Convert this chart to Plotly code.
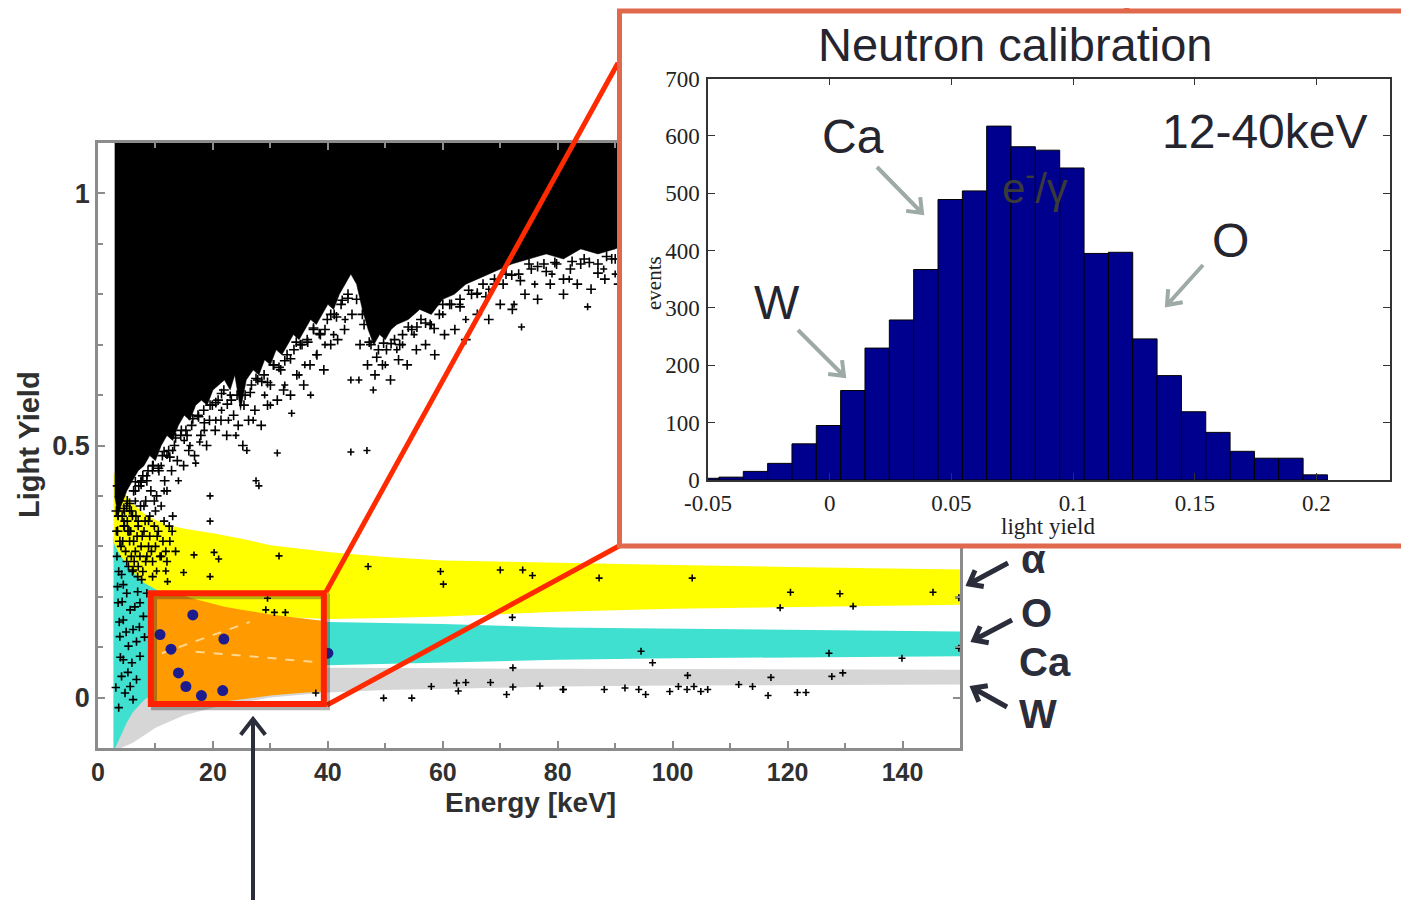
import math
import plotly.graph_objects as go

FIG_W, FIG_H = 1409, 900
PAGE_OFF = 8  # the page places the figure 8 px from the top-left corner

# ---------------- main panel: Light Yield vs Energy [keV] ----------------
band_E = [2.7, 3, 4, 5, 6, 8, 10, 12, 15, 20, 25, 30, 40, 50, 60, 80, 100, 120, 150]
alpha_top = [0.45, 0.44, 0.42, 0.40, 0.385, 0.365, 0.352, 0.343, 0.335, 0.326, 0.315, 0.302, 0.289,
             0.279, 0.272, 0.267, 0.263, 0.259, 0.254]
alpha_bot = [0.31, 0.30, 0.28, 0.265, 0.25, 0.228, 0.215, 0.205, 0.192, 0.178, 0.168, 0.161, 0.156,
             0.158, 0.161, 0.170, 0.176, 0.180, 0.184]
oxygen_top = [0.32, 0.31, 0.29, 0.275, 0.26, 0.24, 0.225, 0.213, 0.20, 0.185, 0.172, 0.163, 0.150,
              0.148, 0.146, 0.139, 0.137, 0.134, 0.131]
oxygen_bot = [-0.1, -0.1, -0.075, -0.05, -0.03, -0.005, 0.01, 0.02, 0.032, 0.044, 0.051, 0.056, 0.064,
              0.067, 0.070, 0.075, 0.078, 0.080, 0.082]
tungsten_top = [0.20, 0.19, 0.17, 0.15, 0.13, 0.11, 0.095, 0.085, 0.078, 0.072, 0.068, 0.065, 0.059,
                0.058, 0.058, 0.057, 0.056, 0.056, 0.055]
tungsten_bot = [-0.1, -0.1, -0.1, -0.095, -0.09, -0.075, -0.06, -0.05, -0.035, -0.02, -0.01, 0.0, 0.01,
                0.015, 0.018, 0.022, 0.024, 0.025, 0.026]

calcium_E = [9.2, 14, 17, 22, 25, 30, 35, 39.3]
calcium_top = [0.207, 0.205, 0.195, 0.18, 0.174, 0.165, 0.158, 0.152]
calcium_bot = [-0.013, -0.013, -0.013, -0.008, -0.003, 0.004, 0.009, 0.012]

ca_guide1_E = [11.1, 26.4]
ca_guide1_y = [0.088, 0.150]
ca_guide2_E = [17.0, 37.5]
ca_guide2_y = [0.091, 0.071]

egamma_E = [2.9, 3.5, 4, 5, 6, 7, 8, 9, 10, 11, 12, 13, 14, 15, 16, 17, 18, 19, 20, 21, 22, 23,
            23.8, 24.8, 25.8, 27, 28, 29, 30, 31, 32, 33, 34, 35, 36, 37, 38, 39, 40, 41, 42, 43,
            44, 45, 46, 47, 48, 49, 50, 51, 52, 54, 56, 58, 60, 62, 64, 66, 68, 70, 72, 75, 78,
            81, 84, 87, 90, 92, 150]
egamma_low = [0.40, 0.36, 0.38, 0.41, 0.43, 0.45, 0.46, 0.48, 0.47, 0.50, 0.52, 0.51, 0.54, 0.56,
              0.55, 0.58, 0.59, 0.58, 0.61, 0.62, 0.63, 0.61, 0.64, 0.57, 0.63, 0.65, 0.64, 0.67,
              0.66, 0.69, 0.68, 0.70, 0.72, 0.71, 0.73, 0.75, 0.74, 0.76, 0.78, 0.77, 0.80, 0.82,
              0.84, 0.82, 0.77, 0.73, 0.70, 0.72, 0.71, 0.73, 0.74, 0.75, 0.77, 0.76, 0.79, 0.80,
              0.82, 0.83, 0.84, 0.85, 0.86, 0.87, 0.88, 0.87, 0.89, 0.88, 0.89, 0.90, 0.90]
egamma_ceiling = 1.1

fringe_E = [3.2, 3.4, 3.8, 4.2, 4.6, 5.1, 5.4, 5.8, 6.2, 6.6, 7.1, 7.4, 7.8, 8.3, 8.7, 9.2, 9.6,
            10.2, 10.6, 11.2, 11.6, 12.3, 12.8, 13.3, 13.8, 14.4, 14.9, 15.3, 15.8, 16.3, 16.8,
            17.4, 17.9, 18.4, 18.9, 19.4, 19.9, 20.4, 20.9, 21.4, 21.9, 22.4, 23.2, 23.6, 24.4,
            25.2, 25.6, 26.2, 26.7, 27.3, 27.8, 28.4, 28.9, 29.5, 30.0, 30.6, 31.2, 31.8, 32.3,
            32.9, 33.5, 34.1, 34.6, 35.2, 35.8, 36.4, 36.9, 37.5, 38.1, 38.7, 39.3, 39.9, 40.5,
            41.1, 41.7, 42.3, 42.9, 43.5, 44.2, 45.0, 45.6, 46.3, 46.9, 47.5, 48.2, 48.8, 49.5,
            50.2, 50.9, 51.6, 52.3, 53.0, 53.8, 54.6, 55.4, 56.2, 57.0, 57.8, 58.6, 59.4, 60.3,
            61.2, 62.1, 63.0, 64.0, 65.0, 66.0, 67.0, 68.0, 69.0, 70.0, 71.0, 72.1, 73.2, 74.3,
            75.4, 76.5, 77.6, 78.7, 79.8, 81.0, 82.2, 83.4, 84.6, 85.8, 87.0, 88.2, 89.4, 90.6]
fringe_y = [0.37, 0.33, 0.31, 0.36, 0.34, 0.39, 0.33, 0.37, 0.41, 0.36, 0.42, 0.38, 0.44, 0.39,
            0.45, 0.41, 0.46, 0.40, 0.45, 0.48, 0.43, 0.49, 0.45, 0.50, 0.47, 0.52, 0.46, 0.53,
            0.49, 0.54, 0.48, 0.56, 0.52, 0.57, 0.50, 0.55, 0.58, 0.53, 0.59, 0.55, 0.61, 0.52,
            0.59, 0.56, 0.54, 0.50, 0.60, 0.55, 0.62, 0.57, 0.63, 0.54, 0.64, 0.58, 0.62, 0.66,
            0.59, 0.65, 0.61, 0.68, 0.60, 0.69, 0.64, 0.70, 0.62, 0.71, 0.66, 0.73, 0.68, 0.72,
            0.65, 0.75, 0.70, 0.76, 0.71, 0.78, 0.73, 0.80, 0.76, 0.79, 0.70, 0.74, 0.66, 0.70,
            0.64, 0.69, 0.66, 0.69, 0.63, 0.71, 0.67, 0.72, 0.66, 0.73, 0.69, 0.75, 0.70, 0.74,
            0.68, 0.76, 0.72, 0.78, 0.73, 0.79, 0.71, 0.80, 0.76, 0.82, 0.75, 0.82, 0.78, 0.84,
            0.77, 0.84, 0.80, 0.85, 0.79, 0.86, 0.82, 0.86, 0.80, 0.85, 0.82, 0.87, 0.81, 0.86,
            0.83, 0.87, 0.82]

fringe2_E = [4.5, 5.5, 6.5, 7.5, 8.5, 9.5, 10.5, 11.5, 12.5, 13.5, 14.5, 15.5, 16.5, 17.5, 18.5,
             19.5, 20.5, 21.5, 22.5, 24.2, 25.4, 26.5, 27.5, 28.5, 29.5, 30.5, 31.5, 32.5, 33.5,
             34.5, 35.5, 36.5, 37.5, 38.5, 39.5, 40.5, 41.5, 42.5, 43.5, 46.0, 47.2, 48.5, 49.7,
             51.0, 52.5, 54.0, 55.5, 57.0, 58.5, 60.0, 61.5, 63.0, 64.5, 66.0, 67.5, 69.0, 70.5,
             72.0, 73.5, 75.0, 76.5, 78.0, 79.5, 81.0, 82.5, 84.0, 85.5, 87.0, 88.5, 90.0]
fringe2_y = [0.375, 0.385, 0.428, 0.427, 0.43, 0.46, 0.455, 0.488, 0.477, 0.515, 0.53, 0.52,
             0.553, 0.557, 0.545, 0.58, 0.585, 0.603, 0.582, 0.60, 0.58, 0.605, 0.633, 0.627,
             0.625, 0.66, 0.655, 0.668, 0.672, 0.705, 0.70, 0.705, 0.733, 0.722, 0.73, 0.76,
             0.755, 0.788, 0.792, 0.76, 0.705, 0.675, 0.703, 0.702, 0.70, 0.735, 0.735, 0.743,
             0.732, 0.78, 0.78, 0.775, 0.808, 0.802, 0.795, 0.83, 0.82, 0.838, 0.827, 0.86, 0.855,
             0.845, 0.863, 0.83, 0.865, 0.86, 0.863, 0.842, 0.875, 0.87]

leak_E = [3.5, 4.5, 5.5, 6.5, 7.5, 8.5, 9.5, 11, 12, 13, 14, 15, 16, 17, 17.7, 18.5, 19.5, 19.5, 20.5,
          21.5, 22.7, 23, 25.9, 27, 28, 29, 30, 31.2, 32.5, 33.7, 35, 36, 38, 39.5, 41, 43, 44, 44,
          45.4, 46.8, 47.9, 50, 52, 55, 58, 60, 63, 66, 68, 72.4, 73.7, 76, 79, 82, 85.2, 88, 90,
          27.5, 11.5, 24, 37, 53, 64]
leak_y = [0.36, 0.35, 0.37, 0.39, 0.42, 0.44, 0.45, 0.46, 0.48, 0.49, 0.43, 0.51, 0.50, 0.465, 0.507,
          0.53, 0.35, 0.40, 0.55, 0.57, 0.55, 0.60, 0.49, 0.55, 0.42, 0.60, 0.58, 0.485, 0.62, 0.564,
          0.64, 0.66, 0.68, 0.70, 0.72, 0.75, 0.487, 0.63, 0.63, 0.49, 0.61, 0.66, 0.69, 0.72, 0.74,
          0.76, 0.78, 0.80, 0.81, 0.78, 0.735, 0.82, 0.84, 0.83, 0.775, 0.85, 0.84,
          0.43, 0.41, 0.52, 0.60, 0.70, 0.75]

lowE_E = [4.1, 4.4, 5.0, 3.5, 5.6, 4.4, 6.1, 3.8, 5.3, 6.7, 4.4, 5.9, 7.3, 4.1, 5.6, 6.7, 7.9, 7.3,
          8.5, 7.6, 6.1, 4.7, 6.1, 4, 5, 6, 7, 8, 9, 10, 4.5, 5.5, 6.5, 7.5, 8.5, 9.5, 11, 12, 5, 6,
          7, 10.5, 11.5, 12.5, 13.5, 8, 9, 10, 6.5, 7.5, 3.5, 4, 9.5, 3.2, 3.3, 3.6, 5.2, 6.8, 8.8,
          9.8, 11, 12, 13, 3.3, 3.9, 4.3, 4.8, 5.3, 5.8, 6.3, 6.9, 7.3, 7.8, 8.3, 8.8, 9.3, 9.8,
          10.3, 10.8, 11.3, 11.8, 12.4, 12.9, 3.4, 3.7, 3.9, 4.9, 5.2, 6.4, 6.9, 7.2, 8.1, 3.1,
          3.6, 4.2, 5.7, 6.2, 7.0, 7.7, 8.2, 4.6, 5.1]
lowE_y = [0.244, 0.224, 0.207, 0.188, 0.174, 0.154, 0.135, 0.121, 0.102, 0.111, 0.075, 0.069, 0.082,
          0.042, 0.022, 0.036, 0.161, 0.188, 0.207, 0.234, 0.253, 0.009, -0.004, 0.40, 0.38, 0.36,
          0.35, 0.33, 0.32, 0.30, 0.34, 0.31, 0.29, 0.30, 0.28, 0.27, 0.28, 0.27, 0.27, 0.25, 0.26,
          0.33, 0.35, 0.31, 0.29, 0.38, 0.36, 0.37, 0.41, 0.43, 0.36, 0.30, 0.24, 0.33, 0.28, 0.25,
          0.33, 0.32, 0.35, 0.39, 0.38, 0.41, 0.36, 0.42, 0.44, 0.31, 0.29, 0.26, 0.28, 0.27, 0.24,
          0.28, 0.25, 0.27, 0.30, 0.29, 0.34, 0.32, 0.28, 0.31, 0.29, 0.34, 0.33, 0.22, 0.15, 0.08,
          0.13, 0.05, 0.18, 0.21, 0.14, 0.12, 0.02, -0.02, 0.19, 0.33, 0.31, 0.34, 0.32, 0.35,
          0.37, 0.35]

band_evt_E = [16.7, 20.2, 21.0, 31.5, 10.2, 11.8, 14.9, 19.5, 12.1, 47.0, 59.6, 60.1, 70.0, 73.9,
              75.6, 87.2, 29.2, 30.7, 32.6, 29.5, 72.1, 103.4, 120.5, 129.1, 145.3, 118.7, 131.4,
              149.8, 94.5, 96.5, 127.2, 139.9, 149.8, 102.6, 117.1, 127.7, 129.6, 80.9, 88.1, 91.7,
              94.1, 95.3, 99.5, 101.0, 102.5, 103.7, 104.9, 106.1, 111.5, 113.9, 116.6, 121.7, 123.2,
              58.0, 62.4, 64.0, 62.7, 68.3, 72.2, 71.1, 76.9, 81.0, 49.7, 54.6, 37.9, 72.2]
band_evt_y = [0.283, 0.288, 0.275, 0.281, 0.251, 0.251, 0.248, 0.240, 0.230, 0.260, 0.250, 0.225,
              0.253, 0.253, 0.242, 0.237, 0.174, 0.169, 0.169, 0.197, 0.159, 0.237, 0.209, 0.206,
              0.209, 0.178, 0.181, 0.198, 0.092, 0.069, 0.088, 0.078, 0.098, 0.044, 0.040, 0.042,
              0.049, 0.016, 0.016, 0.019, 0.016, 0.006, 0.012, 0.022, 0.016, 0.022, 0.012, 0.016,
              0.026, 0.022, 0.004, 0.010, 0.010, 0.022, 0.029, 0.030, 0.013, 0.030, 0.021, 0.006,
              0.023, 0.016, -0.001, -0.001, 0.009, 0.059]

neutron_E = [16.5, 10.8, 12.7, 21.9, 14.0, 15.3, 18.0, 21.7, 40.0]
neutron_y = [0.164, 0.125, 0.096, 0.116, 0.049, 0.022, 0.004, 0.014, 0.088]

main_xticks = [0, 20, 40, 60, 80, 100, 120, 140]
main_yticks = [0, 0.5, 1]

# ---------------- inset: neutron calibration histogram ----------------
hist_ly = [-0.0505, -0.0405, -0.0305, -0.0205, -0.0105, -0.0005, 0.0095, 0.0195, 0.0295, 0.0395,
           0.0495, 0.0595, 0.0695, 0.0795, 0.0895, 0.0995, 0.1095, 0.1195, 0.1295, 0.1395,
           0.1495, 0.1595, 0.1695, 0.1795, 0.1895, 0.1995]
hist_counts = [3, 5, 15, 29, 63, 95, 156, 230, 279, 367, 489, 504, 617, 581, 575, 544, 395, 397,
               246, 182, 119, 83, 50, 38, 38, 9]
inset_xticks = [-0.05, 0, 0.05, 0.1, 0.15, 0.2]
inset_xticktext = ["-0.05", "0", "0.05", "0.1", "0.15", "0.2"]


def PX(x):
    return (x - PAGE_OFF) / FIG_W


def PY(y):
    return 1 - (y - PAGE_OFF) / FIG_H


def arrow_path(x0, y0, x1, y1, head=15, ang=38):
    dx, dy = x1 - x0, y1 - y0
    L = math.hypot(dx, dy)
    vx, vy = -dx / L, -dy / L
    pts = []
    for s in (1, -1):
        a = math.radians(ang) * s
        rx = vx * math.cos(a) - vy * math.sin(a)
        ry = vx * math.sin(a) + vy * math.cos(a)
        pts.append((x1 + head * rx, y1 + head * ry))
    p = f"M {PX(x0)},{PY(y0)} L {PX(x1)},{PY(y1)} "
    p += f"M {PX(pts[0][0])},{PY(pts[0][1])} L {PX(x1)},{PY(y1)} L {PX(pts[1][0])},{PY(pts[1][1])}"
    return p


def band(E, top, bot):
    return list(E) + list(E)[::-1], list(top) + list(bot)[::-1]


fig = go.Figure()

for top, bot, col in [(tungsten_top, tungsten_bot, "#d6d6d6"),
                      (oxygen_top, oxygen_bot, "#40e0d0"),
                      (alpha_top, alpha_bot, "#ffff00")]:
    bx, by = band(band_E, top, bot)
    fig.add_trace(go.Scatter(x=bx, y=by, fill="toself", fillcolor=col, mode="lines",
                             line=dict(width=0), hoverinfo="skip"))

fig.add_trace(go.Scatter(x=egamma_E + [egamma_E[-1], egamma_E[0]],
                         y=egamma_low + [egamma_ceiling, egamma_ceiling],
                         fill="toself", fillcolor="black", mode="lines",
                         line=dict(width=0.5, color="black"), hoverinfo="skip"))

cx, cy = band(calcium_E, calcium_top, calcium_bot)
fig.add_trace(go.Scatter(x=cx, y=cy, fill="toself", fillcolor="#ff9a00", mode="lines",
                         line=dict(width=0), hoverinfo="skip"))
for gx, gy in [(ca_guide1_E, ca_guide1_y), (ca_guide2_E, ca_guide2_y)]:
    fig.add_trace(go.Scatter(x=gx, y=gy, mode="lines",
                             line=dict(color="rgba(255,235,190,0.75)", width=2, dash="dash"),
                             hoverinfo="skip"))

for ex, ey, sz in [(fringe_E, fringe_y, 7), (fringe2_E, fringe2_y, 7), (leak_E, leak_y, 5),
                   (lowE_E, lowE_y, 6), (band_evt_E, band_evt_y, 5)]:
    fig.add_trace(go.Scatter(x=ex, y=ey, mode="markers",
                             marker=dict(symbol="cross-thin", size=sz, color="black",
                                         line=dict(width=1.6, color="black")),
                             hoverinfo="skip"))

fig.add_trace(go.Scatter(x=neutron_E, y=neutron_y, mode="markers",
                         marker=dict(symbol="circle", size=11, color="#1c1c8e"),
                         hoverinfo="skip"))

# inset backdrop subplot (its own white background covers the main panel)
fig.add_trace(go.Scatter(x=[0.5], y=[0.5], mode="markers", marker=dict(opacity=0),
                         xaxis="x2", yaxis="y2", hoverinfo="skip"))

fig.add_trace(go.Bar(x=hist_ly, y=hist_counts, width=0.01, xaxis="x3", yaxis="y3",
                     marker=dict(color="#00008f", line=dict(color="black", width=1)),
                     hoverinfo="skip"))

main_xfont = dict(family="Liberation Sans", size=25, color="#303030", weight="bold")
main_yfont = dict(family="Liberation Sans", size=27, color="#303030", weight="bold")
axcol = "#8c8c8c"
inset_font = dict(family="Liberation Serif", size=23, color="#222222")

fig.update_layout(
    width=FIG_W, height=FIG_H,
    margin=dict(l=0, r=0, t=0, b=0, pad=0, autoexpand=False),
    paper_bgcolor="white", plot_bgcolor="white", showlegend=False,
    xaxis=dict(domain=[PX(98), PX(960)], range=[0, 150], anchor="y",
               showline=True, linecolor=axcol, linewidth=2.5, mirror="allticks",
               ticks="inside", ticklen=7, tickwidth=2, tickcolor=axcol,
               tickvals=main_xticks, tickfont=main_xfont,
               minor=dict(dtick=10, tick0=0, ticks="inside", ticklen=5, tickwidth=1.5,
                          tickcolor=axcol),
               showgrid=False, zeroline=False, automargin=False),
    yaxis=dict(domain=[PY(748), PY(143)], range=[-0.1, 1.1], anchor="x",
               showline=True, linecolor=axcol, linewidth=2.5, mirror="allticks",
               ticks="inside", ticklen=7, tickwidth=2, tickcolor=axcol,
               tickvals=main_yticks, ticktext=["0", "0.5", "1"], tickfont=main_yfont,
               minor=dict(dtick=0.1, tick0=0, ticks="inside", ticklen=5, tickwidth=1.5,
                          tickcolor=axcol),
               showgrid=False, zeroline=False, automargin=False),
    xaxis2=dict(domain=[PX(619), 1.0], range=[0, 1], anchor="y2", visible=False),
    yaxis2=dict(domain=[PY(546), PY(11)], range=[0, 1], anchor="x2", visible=False),
    xaxis3=dict(domain=[PX(708), PX(1390)], range=[-0.05, 0.2302], anchor="y3",
                showline=True, linecolor="#333333", linewidth=1.5, mirror="allticks",
                ticks="inside", ticklen=7, tickcolor="#333333",
                tickvals=inset_xticks, ticktext=inset_xticktext, tickfont=inset_font,
                ticklabelstandoff=2,
                showgrid=False, zeroline=False, automargin=False),
    yaxis3=dict(domain=[PY(480), PY(78.5)], range=[0, 700], anchor="x3",
                showline=True, linecolor="#333333", linewidth=1.5, mirror="allticks",
                ticks="inside", ticklen=7, tickcolor="#333333",
                dtick=100, tick0=0, tickfont=inset_font, ticklabelstandoff=2,
                showgrid=False, zeroline=False, automargin=False),
)

shapes = []
shapes.append(dict(type="line", xref="paper", yref="paper", x0=PX(326), y0=PY(592),
                   x1=PX(618), y1=PY(63), line=dict(color="#ff2a00", width=5), layer="above"))
shapes.append(dict(type="line", xref="paper", yref="paper", x0=PX(327), y0=PY(705),
                   x1=PX(619), y1=PY(546), line=dict(color="#ff2a00", width=5), layer="above"))
shapes.append(dict(type="rect", xref="x", yref="y", x0=9.75, x1=39.85, y0=-0.019, y1=0.201,
                   line=dict(color="rgba(40,40,40,0.35)", width=6), layer="above"))
shapes.append(dict(type="rect", xref="x", yref="y", x0=9.2, x1=39.3, y0=-0.0127, y1=0.207,
                   line=dict(color="#ff2200", width=6), layer="above"))
shapes.append(dict(type="rect", xref="paper", yref="paper", x0=PX(619.5), x1=1.02,
                   y0=PY(546), y1=PY(11), line=dict(color="#e0684c", width=5), layer="above"))
shapes.append(dict(type="line", xref="paper", yref="paper", x0=PX(1117), y0=PY(-2),
                   x1=PX(1129), y1=PY(11), line=dict(color="#e0684c", width=4), layer="above"))

for (x0, y0), (x1, y1), col, w, hd in [
    ((877, 167), (922, 213), "#9eaaa5", 4, 16),
    ((1203, 265), (1167, 305), "#9eaaa5", 4, 16),
    ((798, 330), (844, 376), "#9eaaa5", 4, 16),
    ((1008, 563), (969, 584), "#2b2d3b", 5, 15),
    ((1012, 620), (974, 640), "#2b2d3b", 5, 15),
    ((1007, 707), (973, 688), "#2b2d3b", 5, 15),
    ((253, 910), (253, 719), "#2b2d3b", 4, 20),
]:
    shapes.append(dict(type="path", xref="paper", yref="paper",
                       path=arrow_path(x0, y0, x1, y1, head=hd),
                       line=dict(color=col, width=w), layer="above"))
fig.update_layout(shapes=shapes)


def ann(text, x, y, size, color="#25252f", family="Liberation Sans", bold=False, angle=0):
    f = dict(family=family, size=size, color=color)
    if bold:
        f["weight"] = "bold"
    return dict(text=text, x=PX(x), y=PY(y), xref="paper", yref="paper", showarrow=False,
                xanchor="center", yanchor="middle", font=f, textangle=angle)


annotations = [
    ann("Light Yield", 29, 445, 29, color="#303030", bold=True, angle=-90),
    ann("Energy [keV]", 530, 802, 28, color="#303030", bold=True),
    ann("α", 1033, 559, 40, color="#2b2d3b", bold=True),
    ann("O", 1036, 613, 40, color="#2b2d3b", bold=True),
    ann("Ca", 1045, 662, 40, color="#2b2d3b", bold=True),
    ann("W", 1038, 714, 40, color="#2b2d3b", bold=True),
    ann("Neutron calibration", 1015, 44, 47),
    ann("Ca", 853, 137, 48),
    ann("12-40keV", 1264, 131, 48),
    ann("O", 1230, 240, 48),
    ann("W", 777, 303, 48),
    ann("e<sup>-</sup>/γ", 1035, 185, 42, color="#3a3a3a"),
    ann("light yield", 1048, 526, 23, color="#222222", family="Liberation Serif"),
    ann("events", 654, 283, 21, color="#222222", family="Liberation Serif", angle=-90),
]
fig.update_layout(annotations=annotations)

fig.write_html("out.html")
